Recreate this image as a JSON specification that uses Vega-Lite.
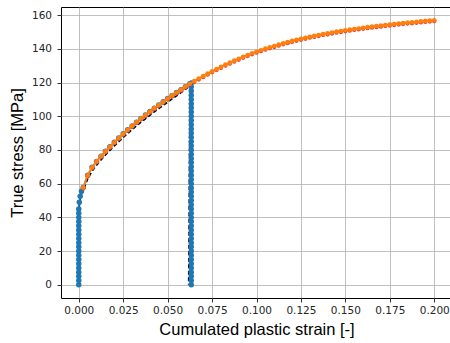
{
  "$schema": "https://vega.github.io/schema/vega-lite/v6.json",
  "width": 391,
  "height": 291,
  "autosize": {"type": "none"},
  "padding": {"left": 61, "top": 7, "right": 0, "bottom": 45},
  "background": "white",
  "config": {
    "view": {"stroke": "black", "strokeWidth": 1},
    "axis": {
      "domain": false,
      "grid": true,
      "gridColor": "#b0b0b0",
      "gridWidth": 0.8,
      "tickColor": "black",
      "tickWidth": 0.8,
      "tickSize": 4,
      "labelFont": "DejaVu Sans",
      "labelFontSize": 10.5,
      "labelColor": "#262626",
      "labelFlush": false,
      "labelOverlap": false,
      "titleFont": "Liberation Sans",
      "titleFontSize": 16.5,
      "titleFontWeight": "normal",
      "titleColor": "black"
    }
  },
  "datasets": {
    "cyclic_test": [
      {"i": 0, "strain": 0, "stress": 0},
      {"i": 1, "strain": 0, "stress": 44},
      {"i": 2, "strain": 0.001, "stress": 53},
      {"i": 3, "strain": 0.0025, "stress": 55.7},
      {"i": 4, "strain": 0.005, "stress": 62.8},
      {"i": 5, "strain": 0.0075, "stress": 67.5},
      {"i": 6, "strain": 0.01, "stress": 71.0},
      {"i": 7, "strain": 0.0125, "stress": 74.1},
      {"i": 8, "strain": 0.015, "stress": 77.0},
      {"i": 9, "strain": 0.0175, "stress": 79.7},
      {"i": 10, "strain": 0.02, "stress": 82.4},
      {"i": 11, "strain": 0.0225, "stress": 84.9},
      {"i": 12, "strain": 0.025, "stress": 87.4},
      {"i": 13, "strain": 0.0275, "stress": 89.8},
      {"i": 14, "strain": 0.03, "stress": 92.1},
      {"i": 15, "strain": 0.0325, "stress": 94.3},
      {"i": 16, "strain": 0.035, "stress": 96.5},
      {"i": 17, "strain": 0.0375, "stress": 98.5},
      {"i": 18, "strain": 0.04, "stress": 100.6},
      {"i": 19, "strain": 0.0425, "stress": 102.6},
      {"i": 20, "strain": 0.045, "stress": 104.5},
      {"i": 21, "strain": 0.0475, "stress": 106.4},
      {"i": 22, "strain": 0.05, "stress": 108.3},
      {"i": 23, "strain": 0.0525, "stress": 110.3},
      {"i": 24, "strain": 0.055, "stress": 112.1},
      {"i": 25, "strain": 0.0575, "stress": 114.0},
      {"i": 26, "strain": 0.06, "stress": 116.0},
      {"i": 27, "strain": 0.0625, "stress": 118.0},
      {"i": 28, "strain": 0.0628, "stress": 119.2},
      {"i": 29, "strain": 0.0625, "stress": 100},
      {"i": 30, "strain": 0.0622, "stress": 60},
      {"i": 31, "strain": 0.062, "stress": 20},
      {"i": 32, "strain": 0.0618, "stress": 0}
    ],
    "cyclic_model": [
      {"i": 0, "strain": 0, "stress": 0},
      {"i": 1, "strain": 0, "stress": 2.5},
      {"i": 2, "strain": 0, "stress": 5},
      {"i": 3, "strain": 0, "stress": 7.5},
      {"i": 4, "strain": 0, "stress": 10},
      {"i": 5, "strain": 0, "stress": 12.5},
      {"i": 6, "strain": 0, "stress": 15},
      {"i": 7, "strain": 0, "stress": 17.5},
      {"i": 8, "strain": 0, "stress": 20},
      {"i": 9, "strain": 0, "stress": 22.5},
      {"i": 10, "strain": 0, "stress": 25},
      {"i": 11, "strain": 0, "stress": 27.5},
      {"i": 12, "strain": 0, "stress": 30},
      {"i": 13, "strain": 0, "stress": 32.5},
      {"i": 14, "strain": 0, "stress": 35},
      {"i": 15, "strain": 0, "stress": 37.5},
      {"i": 16, "strain": 0, "stress": 40},
      {"i": 17, "strain": 0, "stress": 42.5},
      {"i": 18, "strain": 0, "stress": 45},
      {"i": 19, "strain": 0.0003, "stress": 49},
      {"i": 20, "strain": 0.0008, "stress": 52.5},
      {"i": 21, "strain": 0.0015, "stress": 55.5},
      {"i": 22, "strain": 0.0025, "stress": 57.7},
      {"i": 23, "strain": 0.005, "stress": 65.0},
      {"i": 24, "strain": 0.0075, "stress": 69.7},
      {"i": 25, "strain": 0.01, "stress": 73.2},
      {"i": 26, "strain": 0.0125, "stress": 76.3},
      {"i": 27, "strain": 0.015, "stress": 79.2},
      {"i": 28, "strain": 0.0175, "stress": 81.9},
      {"i": 29, "strain": 0.02, "stress": 84.6},
      {"i": 30, "strain": 0.0225, "stress": 87.1},
      {"i": 31, "strain": 0.025, "stress": 89.6},
      {"i": 32, "strain": 0.0275, "stress": 92.0},
      {"i": 33, "strain": 0.03, "stress": 94.3},
      {"i": 34, "strain": 0.0325, "stress": 96.5},
      {"i": 35, "strain": 0.035, "stress": 98.7},
      {"i": 36, "strain": 0.0375, "stress": 100.7},
      {"i": 37, "strain": 0.04, "stress": 102.8},
      {"i": 38, "strain": 0.0425, "stress": 104.8},
      {"i": 39, "strain": 0.045, "stress": 106.7},
      {"i": 40, "strain": 0.0475, "stress": 108.6},
      {"i": 41, "strain": 0.05, "stress": 110.5},
      {"i": 42, "strain": 0.0525, "stress": 112.4},
      {"i": 43, "strain": 0.055, "stress": 114.1},
      {"i": 44, "strain": 0.0575, "stress": 115.8},
      {"i": 45, "strain": 0.06, "stress": 117.6},
      {"i": 46, "strain": 0.0625, "stress": 119.3},
      {"i": 47, "strain": 0.0633, "stress": 119.8},
      {"i": 48, "strain": 0.0633, "stress": 117.5},
      {"i": 49, "strain": 0.0633, "stress": 115},
      {"i": 50, "strain": 0.0633, "stress": 112.5},
      {"i": 51, "strain": 0.0633, "stress": 110},
      {"i": 52, "strain": 0.0633, "stress": 107.5},
      {"i": 53, "strain": 0.0633, "stress": 105},
      {"i": 54, "strain": 0.0633, "stress": 102.5},
      {"i": 55, "strain": 0.0633, "stress": 100},
      {"i": 56, "strain": 0.0633, "stress": 97.5},
      {"i": 57, "strain": 0.0633, "stress": 95},
      {"i": 58, "strain": 0.0633, "stress": 92.5},
      {"i": 59, "strain": 0.0633, "stress": 90},
      {"i": 60, "strain": 0.0633, "stress": 87.5},
      {"i": 61, "strain": 0.0633, "stress": 85},
      {"i": 62, "strain": 0.0633, "stress": 82.5},
      {"i": 63, "strain": 0.0633, "stress": 80},
      {"i": 64, "strain": 0.0633, "stress": 77.5},
      {"i": 65, "strain": 0.0633, "stress": 75},
      {"i": 66, "strain": 0.0633, "stress": 72.5},
      {"i": 67, "strain": 0.0633, "stress": 70},
      {"i": 68, "strain": 0.0633, "stress": 67.5},
      {"i": 69, "strain": 0.0633, "stress": 65},
      {"i": 70, "strain": 0.0633, "stress": 62.5},
      {"i": 71, "strain": 0.0633, "stress": 60},
      {"i": 72, "strain": 0.0633, "stress": 57.5},
      {"i": 73, "strain": 0.0633, "stress": 55},
      {"i": 74, "strain": 0.0633, "stress": 52.5},
      {"i": 75, "strain": 0.0633, "stress": 50},
      {"i": 76, "strain": 0.0633, "stress": 47.5},
      {"i": 77, "strain": 0.0633, "stress": 45},
      {"i": 78, "strain": 0.0633, "stress": 42.5},
      {"i": 79, "strain": 0.0633, "stress": 40},
      {"i": 80, "strain": 0.0633, "stress": 37.5},
      {"i": 81, "strain": 0.0633, "stress": 35},
      {"i": 82, "strain": 0.0633, "stress": 32.5},
      {"i": 83, "strain": 0.0633, "stress": 30},
      {"i": 84, "strain": 0.0633, "stress": 27.5},
      {"i": 85, "strain": 0.0633, "stress": 25},
      {"i": 86, "strain": 0.0633, "stress": 22.5},
      {"i": 87, "strain": 0.0633, "stress": 20},
      {"i": 88, "strain": 0.0633, "stress": 17.5},
      {"i": 89, "strain": 0.0633, "stress": 15},
      {"i": 90, "strain": 0.0633, "stress": 12.5},
      {"i": 91, "strain": 0.0633, "stress": 10},
      {"i": 92, "strain": 0.0633, "stress": 7.5},
      {"i": 93, "strain": 0.0633, "stress": 5},
      {"i": 94, "strain": 0.0633, "stress": 2.5},
      {"i": 95, "strain": 0.0633, "stress": 0}
    ],
    "monotonic_test": [
      {"strain": 0.0025, "stress": 57.1}, {"strain": 0.005, "stress": 64.4}, {"strain": 0.0075, "stress": 69.1},
      {"strain": 0.01, "stress": 72.6}, {"strain": 0.0125, "stress": 75.7}, {"strain": 0.015, "stress": 78.6},
      {"strain": 0.0175, "stress": 81.3}, {"strain": 0.02, "stress": 84.0}, {"strain": 0.0225, "stress": 86.5},
      {"strain": 0.025, "stress": 89.0}, {"strain": 0.0275, "stress": 91.4}, {"strain": 0.03, "stress": 93.7},
      {"strain": 0.0325, "stress": 95.9}, {"strain": 0.035, "stress": 98.1}, {"strain": 0.0375, "stress": 100.1},
      {"strain": 0.04, "stress": 102.2}, {"strain": 0.0425, "stress": 104.2}, {"strain": 0.045, "stress": 106.1},
      {"strain": 0.0475, "stress": 108.0}, {"strain": 0.05, "stress": 109.9}, {"strain": 0.0525, "stress": 111.8},
      {"strain": 0.055, "stress": 113.5}, {"strain": 0.0575, "stress": 115.2}, {"strain": 0.06, "stress": 117.0},
      {"strain": 0.0625, "stress": 118.7}, {"strain": 0.065, "stress": 120.3}, {"strain": 0.0675, "stress": 121.8},
      {"strain": 0.07, "stress": 123.2}, {"strain": 0.0725, "stress": 124.7}, {"strain": 0.075, "stress": 126.1},
      {"strain": 0.0775, "stress": 127.4}, {"strain": 0.08, "stress": 128.7}, {"strain": 0.0825, "stress": 130.0},
      {"strain": 0.085, "stress": 131.2}, {"strain": 0.0875, "stress": 132.4}, {"strain": 0.09, "stress": 133.5},
      {"strain": 0.0925, "stress": 134.7}, {"strain": 0.095, "stress": 135.7}, {"strain": 0.0975, "stress": 136.8},
      {"strain": 0.1, "stress": 137.7}, {"strain": 0.1025, "stress": 138.6}, {"strain": 0.105, "stress": 139.5},
      {"strain": 0.1075, "stress": 140.3}, {"strain": 0.11, "stress": 141.1}, {"strain": 0.1125, "stress": 141.9},
      {"strain": 0.115, "stress": 142.7}, {"strain": 0.1175, "stress": 143.4}, {"strain": 0.12, "stress": 144.1},
      {"strain": 0.1225, "stress": 144.8}, {"strain": 0.125, "stress": 145.4}, {"strain": 0.1275, "stress": 146.0},
      {"strain": 0.13, "stress": 146.6}, {"strain": 0.1325, "stress": 147.1}, {"strain": 0.135, "stress": 147.6},
      {"strain": 0.1375, "stress": 148.2}, {"strain": 0.14, "stress": 148.6}, {"strain": 0.1425, "stress": 149.1},
      {"strain": 0.145, "stress": 149.6}, {"strain": 0.1475, "stress": 150.0}, {"strain": 0.15, "stress": 150.4},
      {"strain": 0.1525, "stress": 150.8}, {"strain": 0.155, "stress": 151.2}, {"strain": 0.1575, "stress": 151.5},
      {"strain": 0.16, "stress": 151.9}, {"strain": 0.1625, "stress": 152.3}, {"strain": 0.165, "stress": 152.6},
      {"strain": 0.1675, "stress": 152.9}, {"strain": 0.17, "stress": 153.2}, {"strain": 0.1725, "stress": 153.5},
      {"strain": 0.175, "stress": 153.8}, {"strain": 0.1775, "stress": 154.1}, {"strain": 0.18, "stress": 154.4},
      {"strain": 0.1825, "stress": 154.7}, {"strain": 0.185, "stress": 155.0}, {"strain": 0.1875, "stress": 155.2},
      {"strain": 0.19, "stress": 155.5}, {"strain": 0.1925, "stress": 155.7}, {"strain": 0.195, "stress": 156.0},
      {"strain": 0.1975, "stress": 156.2}, {"strain": 0.2, "stress": 156.4}
    ],
    "monotonic_model": [
      {"strain": 0.0025, "stress": 57.7}, {"strain": 0.005, "stress": 65.0}, {"strain": 0.0075, "stress": 69.7},
      {"strain": 0.01, "stress": 73.2}, {"strain": 0.0125, "stress": 76.3}, {"strain": 0.015, "stress": 79.2},
      {"strain": 0.0175, "stress": 81.9}, {"strain": 0.02, "stress": 84.6}, {"strain": 0.0225, "stress": 87.1},
      {"strain": 0.025, "stress": 89.6}, {"strain": 0.0275, "stress": 92.0}, {"strain": 0.03, "stress": 94.3},
      {"strain": 0.0325, "stress": 96.5}, {"strain": 0.035, "stress": 98.7}, {"strain": 0.0375, "stress": 100.7},
      {"strain": 0.04, "stress": 102.8}, {"strain": 0.0425, "stress": 104.8}, {"strain": 0.045, "stress": 106.7},
      {"strain": 0.0475, "stress": 108.6}, {"strain": 0.05, "stress": 110.5}, {"strain": 0.0525, "stress": 112.4},
      {"strain": 0.055, "stress": 114.1}, {"strain": 0.0575, "stress": 115.8}, {"strain": 0.06, "stress": 117.6},
      {"strain": 0.0625, "stress": 119.3}, {"strain": 0.065, "stress": 120.9}, {"strain": 0.0675, "stress": 122.4},
      {"strain": 0.07, "stress": 123.8}, {"strain": 0.0725, "stress": 125.3}, {"strain": 0.075, "stress": 126.7},
      {"strain": 0.0775, "stress": 128.0}, {"strain": 0.08, "stress": 129.3}, {"strain": 0.0825, "stress": 130.6},
      {"strain": 0.085, "stress": 131.8}, {"strain": 0.0875, "stress": 133.0}, {"strain": 0.09, "stress": 134.1},
      {"strain": 0.0925, "stress": 135.3}, {"strain": 0.095, "stress": 136.3}, {"strain": 0.0975, "stress": 137.4},
      {"strain": 0.1, "stress": 138.3}, {"strain": 0.1025, "stress": 139.2}, {"strain": 0.105, "stress": 140.1},
      {"strain": 0.1075, "stress": 140.9}, {"strain": 0.11, "stress": 141.7}, {"strain": 0.1125, "stress": 142.5},
      {"strain": 0.115, "stress": 143.3}, {"strain": 0.1175, "stress": 144.0}, {"strain": 0.12, "stress": 144.7},
      {"strain": 0.1225, "stress": 145.4}, {"strain": 0.125, "stress": 146.0}, {"strain": 0.1275, "stress": 146.6},
      {"strain": 0.13, "stress": 147.2}, {"strain": 0.1325, "stress": 147.7}, {"strain": 0.135, "stress": 148.2},
      {"strain": 0.1375, "stress": 148.8}, {"strain": 0.14, "stress": 149.2}, {"strain": 0.1425, "stress": 149.7},
      {"strain": 0.145, "stress": 150.2}, {"strain": 0.1475, "stress": 150.6}, {"strain": 0.15, "stress": 151.0},
      {"strain": 0.1525, "stress": 151.4}, {"strain": 0.155, "stress": 151.8}, {"strain": 0.1575, "stress": 152.1},
      {"strain": 0.16, "stress": 152.5}, {"strain": 0.1625, "stress": 152.9}, {"strain": 0.165, "stress": 153.2},
      {"strain": 0.1675, "stress": 153.5}, {"strain": 0.17, "stress": 153.8}, {"strain": 0.1725, "stress": 154.1},
      {"strain": 0.175, "stress": 154.4}, {"strain": 0.1775, "stress": 154.7}, {"strain": 0.18, "stress": 155.0},
      {"strain": 0.1825, "stress": 155.3}, {"strain": 0.185, "stress": 155.6}, {"strain": 0.1875, "stress": 155.8},
      {"strain": 0.19, "stress": 156.1}, {"strain": 0.1925, "stress": 156.3}, {"strain": 0.195, "stress": 156.6},
      {"strain": 0.1975, "stress": 156.8}, {"strain": 0.2, "stress": 157.0}
    ]
  },
  "encoding": {
    "x": {
      "field": "strain",
      "type": "quantitative",
      "scale": {"domain": [-0.01, 0.21], "nice": false, "zero": false},
      "axis": {
        "title": "Cumulated plastic strain [-]",
        "values": [0, 0.025, 0.05, 0.075, 0.1, 0.125, 0.15, 0.175, 0.2],
        "format": ".3f",
        "labelOverlap": false,
        "labelFlush": false,
        "labelPadding": 3,
        "titlePadding": 6
      }
    },
    "y": {
      "field": "stress",
      "type": "quantitative",
      "scale": {"domain": [-7.85, 164.85], "nice": false, "zero": false},
      "axis": {
        "title": "True stress [MPa]",
        "values": [0, 20, 40, 60, 80, 100, 120, 140, 160],
        "format": "d",
        "labelOverlap": false,
        "labelBound": false,
        "labelPadding": 5.5,
        "titlePadding": 6
      }
    }
  },
  "layer": [
    {
      "data": {"name": "cyclic_test"},
      "mark": {"type": "line", "color": "black", "strokeWidth": 1.6, "strokeDash": [4, 2.5]},
      "encoding": {"order": {"field": "i"}}
    },
    {
      "data": {"name": "cyclic_model"},
      "mark": {"type": "line", "color": "#1f77b4", "strokeWidth": 1.5, "point": {"filled": true, "size": 30, "color": "#1f77b4"}},
      "encoding": {"order": {"field": "i"}}
    },
    {
      "data": {"name": "monotonic_test"},
      "mark": {"type": "circle", "color": "#e3352b", "size": 18, "opacity": 1},
      "encoding": {}
    },
    {
      "data": {"name": "monotonic_model"},
      "mark": {"type": "line", "color": "#ff7f0e", "strokeWidth": 2, "point": {"filled": true, "size": 22, "color": "#ff7f0e"}},
      "encoding": {}
    }
  ]
}
